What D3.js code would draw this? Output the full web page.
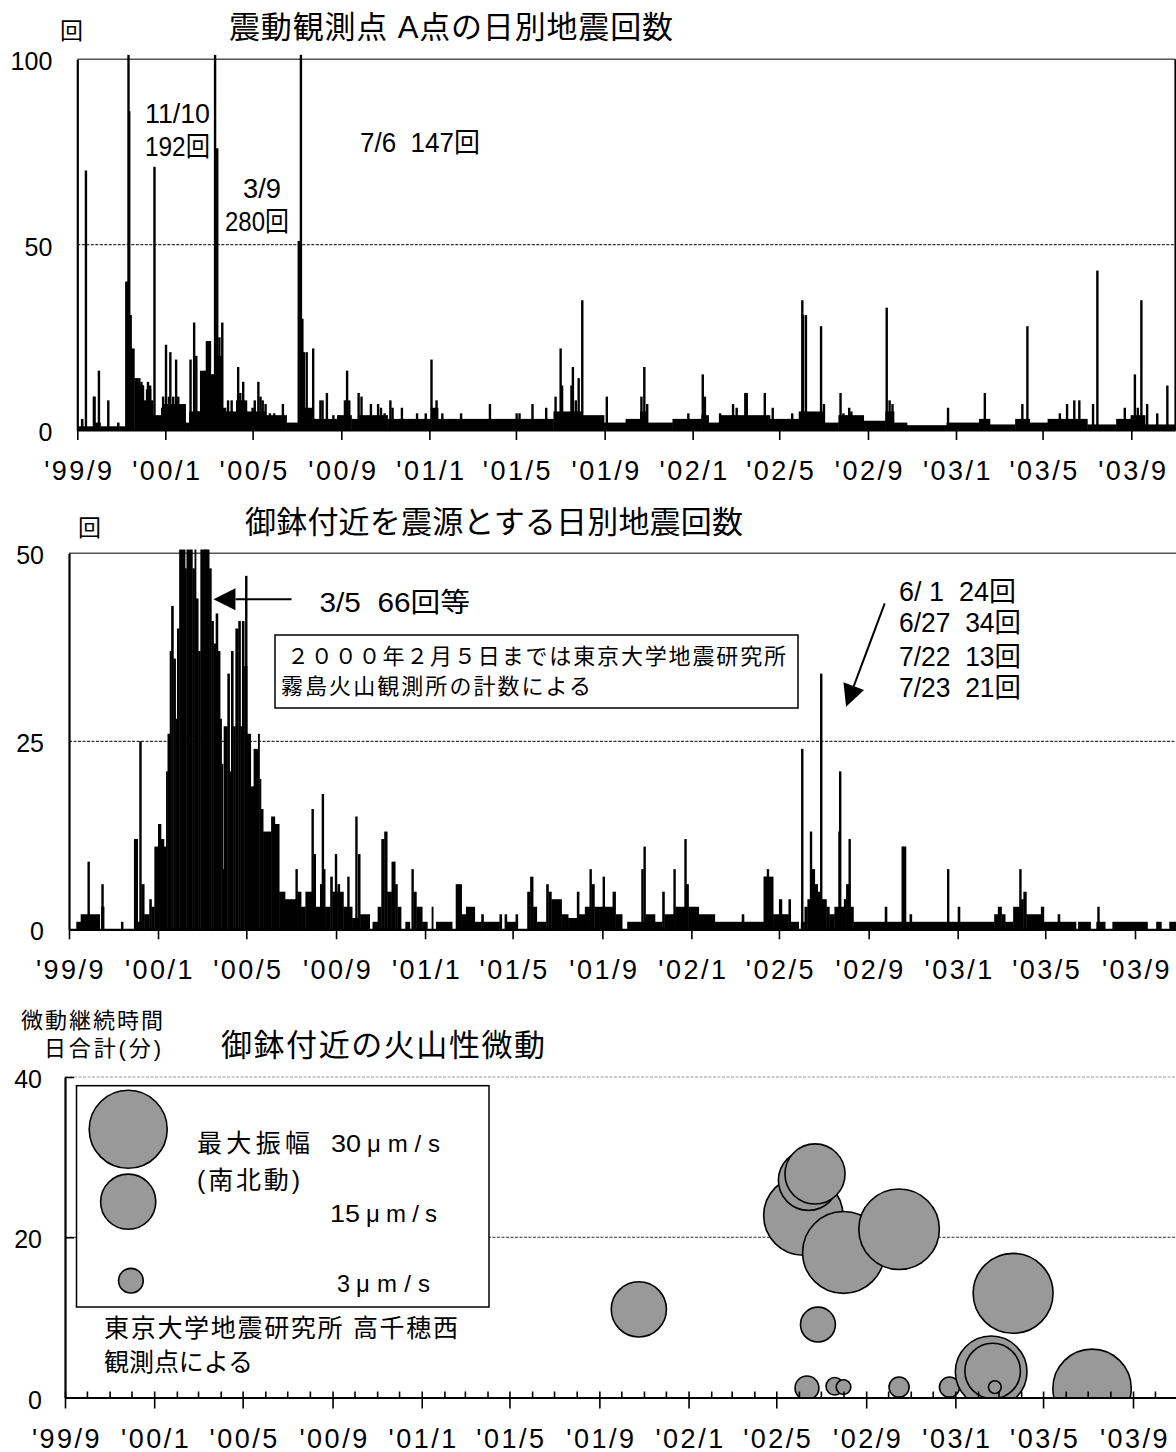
<!DOCTYPE html>
<html>
<head>
<meta charset="utf-8">
<script src="https://cdn.jsdelivr.net/npm/d3@7"></script>
<style>
  body { margin: 0; background: #fff; }
  svg { display: block; background: #fff; }
  text { font-family: 'Liberation Sans', Arial, 'Noto Sans CJK JP', sans-serif; fill: #000; }
</style>
</head>
<body>
<svg width="1176" height="1452"></svg>
<script>
const svg = d3.select('svg')

// days are counted from 1999-09-01
const start = new Date(1999, 8, 1)
const sep03 = new Date(2003, 8, 1)
const end = new Date(2003, 10, 1)
const day = n => d3.timeDay.offset(start, n)

// A point: background level, [day, count] held until the next entry
const baseA = [[0,1],[5,3],[8,1],[24,2],[32,1],[55,2],[58,1],[66,1],[74,22],[79,14],[84,12],[92,8],[95,11],[102,8],[105,4],[116,6],[120,7],[150,2],[155,5],[170,16],[178,24],[185,15],[191,20],[200,6],[206,5],[220,8],[235,5],[260,4],[290,2],[312,6],[325,3],[360,4],[380,3],[390,4],[430,3],[490,6],[500,3],[660,5],[700,4],[730,2],[760,3],[780,5],[790,2],[825,3],[865,4],[875,2],[890,4],[960,3],[1000,5],[1035,2],[1055,4],[1090,2.5],[1120,5],[1132,2],[1150,1.3],[1205,2],[1250,3],[1265,1.5],[1300,3],[1320,2],[1345,3],[1400,1.5],[1440,3],[1460,4],[1480,1.5],[1522,0]]
// A point: single days above the background [day, count]
const peaksA = [[11,70],[22,9],[23,9],[29,16],[42,8],[67,40],[68,40],[69,40],[70,192],[71,86],[72,31],[73,31],[85,14],[88,13],[90,12],[97,13],[100,12],[106,71],[118,9],[122,23],[126,9],[128,21],[132,9],[136,19],[139,9],[142,6],[147,7],[156,19],[161,29],[164,20],[167,5],[187,15],[190,280],[193,76],[196,25],[200,29],[208,8],[213,8],[222,17],[225,10],[229,13],[242,6],[245,8],[250,13],[253,9],[256,8],[260,7],[266,4.5],[272,4.5],[284,7],[306,51],[309,147],[311,30],[313,21],[317,21],[326,22],[336,8],[339,8],[345,10],[354,4],[362,4],[370,8],[373,16],[376,8],[389,10],[393,9],[406,7],[416,7],[420,6],[425,4.5],[433,8],[436,6],[449,6],[470,4.5],[482,4.5],[490,19],[497,8],[505,4.5],[531,4.5],[571,7],[608,4.5],[612,4.5],[630,7],[649,6],[662,9],[669,22],[671,12],[684,12],[686,17],[690,8],[694,14],[699,35],[733,9],[781,9],[785,17],[789,7],[846,4.5],[866,15],[869,9],[890,4.5],[908,7],[913,6],[925,10],[927,10],[952,10],[963,6],[990,4.5],[1004,35],[1005,31],[1009,31],[1030,28],[1034,7],[1057,10],[1061,4.5],[1069,6],[1072,5],[1121,33],[1125,8],[1129,7],[1206,6],[1257,10],[1309,7],[1316,28],[1361,4.5],[1371,7],[1381,8],[1388,8],[1407,7],[1413,43],[1451,6],[1465,15],[1469,6],[1474,35],[1482,7],[1496,4.5],[1510,12]]

// Ohachi: background level [day, count]
const baseB = [[0,0],[10,1],[16,2],[27,2],[42,0],[44,3],[48,0],[89,12],[94,1],[99,6],[103,2],[110,4],[113,3],[117,11],[122,14],[126,12],[130,11],[133,21],[135,26],[138,37],[140,43],[143,36],[146,28],[148,40],[151,55],[159,48],[161,55],[167,60],[169,48],[172,55],[174,44],[177,37],[180,55],[192,48],[195,41],[198,38],[201,42],[204,37],[207,28],[209,22],[211,8],[212,27],[217,34],[220,21],[222,37],[225,27],[228,40],[232,41],[235,27],[237,41],[240,35],[244,26],[249,19],[253,24],[259,26],[261,20],[263,16],[266,13],[277,15],[282,14],[288,5],[296,4],[313,5],[318,3],[324,5],[335,10],[338,3],[344,6],[349,8],[351,3],[358,7],[361,5],[368,6],[371,5],[376,3],[388,1.5],[396,10],[399,2],[412,0],[416,1],[423,3],[428,12],[432,13],[436,5],[442,9],[447,6],[450,3],[455,0],[461,1],[467,0],[472,5],[476,3],[484,1],[491,0],[497,3],[499,0],[503,1],[525,0],[530,6],[538,2],[544,3],[556,1],[565,2],[568,1],[590,2],[593,0],[597,2],[600,1],[612,2],[615,0],[628,5],[632,7],[636,3],[641,1],[654,6],[657,5],[661,4],[675,2],[684,1.5],[696,5],[699,2],[707,3],[716,6],[720,3],[745,5],[749,2],[758,0],[765,1],[790,2],[803,1],[813,5],[816,2],[831,3],[845,6],[849,3],[863,2],[885,1],[922,2],[925,1],[952,7],[965,2],[973,4],[977,2],[986,4],[989,1],[1000,0],[1003,1],[1008,3],[1012,4],[1018,8],[1022,6],[1026,5],[1031,4],[1038,3],[1042,2],[1049,3],[1062,4],[1065,6],[1070,3],[1075,1],[1118,3],[1121,1],[1141,11],[1147,1],[1152,2],[1155,1],[1218,3],[1221,1],[1268,2],[1273,3],[1278,2],[1283,1],[1294,3],[1305,4],[1308,5],[1312,2],[1332,3],[1336,1],[1355,2],[1358,1],[1380,0],[1383,1],[1400,0],[1408,1],[1420,0],[1430,1],[1478,0],[1490,1],[1497,0],[1508,1],[1522,0]]
// Ohachi: single days above the background [day, count]
const peaksB = [[26,9],[45,6],[72,1],[97,25],[186,66],[242,47],[311,8],[333,16],[347,18],[365,10],[382,7],[393,15],[470,8],[714,8],[732,7],[785,8],[788,11],[829,8],[844,12],[953,7],[957,8],[1004,24],[1016,13],[1030,34],[1055,13],[1056,21],[1069,12],[1143,11],[1204,8],[1303,8],[1410,3]]

// volcanic tremor near Ohachi
const tremorDates = ['2001-10-25','2002-06-07','2002-06-12','2002-06-14','2002-06-23','2002-06-27','2002-07-20','2002-08-01','2002-08-01','2002-10-16','2002-10-16','2002-12-24','2003-02-19','2003-02-21','2003-02-24','2003-03-21','2003-07-07']
const tremorMinutes = [11, 22.7, 1.2, 27.1, 27.9, 9.1, 1.4, 18.1, 1.3, 21, 1.3, 1.3, 3.2, 3.3, 1.3, 13, 1.15]
const tremorAmp = [15, 31, 2.8, 17.8, 17.8, 6, 1.5, 33, 1.05, 32, 2, 2, 25.3, 15.2, 0.8, 31.5, 30.3]
const legendAmp = [30, 15, 3]

const parse = d3.timeParse('%Y-%m-%d')
const tickMonths = d3.timeMonth.every(4).range(start, d3.timeDay.offset(sep03, 1))
const allMonths = d3.timeMonth.range(start, end)
const tickLabel = d => `'${d3.timeFormat('%y')(d)}/${d.getMonth() + 1}`

function makeX(left, at0309) {
  const x = d3.scaleTime([start, sep03], [left, at0309])
  return x.copy().domain([start, end]).range([left, x(end)])
}

const x1 = makeX(77.3, 1131.3)
const y1 = d3.scaleLinear([0, 100], [430, 59.3])
const x2 = makeX(69, 1135)
const y2 = d3.scaleLinear([0, 50], [929.3, 553.3])
const x3 = makeX(65, 1133)
const y3 = d3.scaleLinear([0, 40], [1397.5, 1077])
const r = d3.scaleSqrt([0, 30], [0, 39])

function grid(x, y, values, color) {
  svg.append('g').selectAll('line').data(values).join('line')
    .attr('x1', x.range()[0]).attr('x2', x.range()[1])
    .attr('y1', d => y(d)).attr('y2', d => y(d))
    .attr('stroke', color).attr('stroke-width', 1.2)
    .attr('stroke-dasharray', '3,1.5')
}

function drawCounts(x, y, base, peaks, cap) {
  const g = svg.append('g')
  const yv = v => y(Math.min(v, cap))
  g.selectAll('rect.base').data(base.slice(0, -1)).join('rect')
    .attr('class', 'base')
    .attr('x', d => x(day(d[0])))
    .attr('width', (d, i) => x(day(base[i + 1][0])) - x(day(d[0])) + 0.4)
    .attr('y', d => yv(d[1]))
    .attr('height', d => y(0) - yv(d[1]))
  g.selectAll('rect.peak').data(peaks).join('rect')
    .attr('class', 'peak')
    .attr('x', d => x(day(d[0])) - 0.5)
    .attr('width', 2.4)
    .attr('y', d => yv(d[1]))
    .attr('height', d => y(0) - yv(d[1]))
}

function xAxis(x, y0, size) {
  const ax = svg.append('g').attr('transform', `translate(0,${y0})`)
    .call(d3.axisBottom(x).tickValues(tickMonths).tickFormat(tickLabel).tickSize(size).tickSizeOuter(0))
  ax.select('.domain').attr('stroke-width', 2.2)
  ax.selectAll('.tick line').attr('stroke-width', 1.6)
  ax.selectAll('.tick text').attr('y', 50).attr('dy', null).attr('font-size', 27)
    .attr('dx', 1.5).style('letter-spacing', '2.5px')
  return ax
}

function yAxis(x0, y, ticks, pad, inner) {
  const ax = svg.append('g').attr('transform', `translate(${x0},0)`)
    .call(d3.axisLeft(y).tickValues(ticks).tickSizeInner(inner).tickSizeOuter(0).tickPadding(pad))
  ax.select('.domain').attr('stroke-width', 2.2)
  ax.selectAll('.tick line').attr('stroke-width', 1.6)
  ax.selectAll('.tick text').attr('font-size', 25).attr('dy', '0.42em')
}

function label(t, xa, xb, yc, size, adjust) {
  return svg.append('text')
    .attr('x', xa).attr('y', yc)
    .attr('dominant-baseline', 'central')
    .attr('font-size', size)
    .attr('textLength', xb - xa)
    .attr('lengthAdjust', adjust || 'spacingAndGlyphs')
    .text(t)
}

function arrow(x, y, from, to) {
  const xa = x(day(from[0])), ya = y(from[1]), xb = x(day(to[0])), yb = y(to[1])
  const len = Math.hypot(xb - xa, yb - ya)
  const ux = (xb - xa) / len, uy = (yb - ya) / len
  const bx = xb - ux * 22, by = yb - uy * 22
  svg.append('line').attr('x1', xa).attr('y1', ya).attr('x2', bx).attr('y2', by)
    .attr('stroke', '#000').attr('stroke-width', 2)
  svg.append('path')
    .attr('d', `M${xb},${yb}L${bx - uy * 11},${by + ux * 11}L${bx + uy * 11},${by - ux * 11}Z`)
    .attr('fill', '#000')
}

const nb = '\u00a0'

// ---------- panel 1 ----------
grid(x1, y1, [50], '#333')
svg.append('line').attr('x1', x1.range()[0]).attr('x2', x1.range()[1])
  .attr('y1', y1(100)).attr('y2', y1(100)).attr('stroke', '#555').attr('stroke-width', 1.5)
svg.append('line').attr('x1', x1.range()[1]).attr('x2', x1.range()[1])
  .attr('y1', y1(100)).attr('y2', y1(0)).attr('stroke', '#000').attr('stroke-width', 1.8)
drawCounts(x1, y1, baseA, peaksA, 101.2)
xAxis(x1, y1(0), 10)
yAxis(x1.range()[0], y1, [0, 50, 100], 25, 0)

label('回', 60, 83, 31, 23)
label('震動観測点 A点の日別地震回数', 229, 673, 27, 31, 'spacing')
label('11/10', 145, 210, 114, 27)
label('192回', 145, 210, 147, 27)
label('3/9', 243, 281, 189, 27)
label('280回', 225, 289, 222, 27)
label(`7/6${nb}${nb}147回`, 360, 480, 143, 27)

// ---------- panel 2 ----------
grid(x2, y2, [25], '#333')
svg.append('line').attr('x1', x2.range()[0]).attr('x2', x2.range()[1])
  .attr('y1', y2(50)).attr('y2', y2(50)).attr('stroke', '#555').attr('stroke-width', 1.5)
drawCounts(x2, y2, baseB, peaksB, 50.5)
xAxis(x2, y2(0), 10)
yAxis(x2.range()[0], y2, [0, 25, 50], 25, 0)

label('回', 78, 101, 528, 23)
label('御鉢付近を震源とする日別地震回数', 245, 743, 522, 31, 'spacing')
arrow(x2, y2, [305, 43.9], [198, 43.9])
label(`3/5${nb}${nb}66回等`, 319.5, 470, 603, 27)
svg.append('rect').attr('x', 275).attr('y', 635).attr('width', 523).attr('height', 73)
  .attr('fill', '#fff').attr('stroke', '#000').attr('stroke-width', 1.5)
label('２０００年２月５日までは東京大学地震研究所', 287, 786, 656, 22, 'spacing')
label('霧島火山観測所の計数による', 281, 591, 686, 22, 'spacing')
arrow(x2, y2, [1118.8, 43.35], [1065, 29.6])
label(`6/${nb}1${nb}${nb}24回`, 899, 1016, 592, 27)
label(`6/27${nb}${nb}34回`, 899, 1021, 623, 27)
label(`7/22${nb}${nb}13回`, 899, 1021, 657, 27)
label(`7/23${nb}${nb}21回`, 899, 1021, 688, 27)

// ---------- panel 3 ----------
grid(x3, y3, [20], '#333')
grid(x3, y3, [40], '#999')

svg.append('clipPath').attr('id', 'clip3').append('rect')
  .attr('x', x3.range()[0]).attr('y', y3(40) - 20)
  .attr('width', x3.range()[1] - x3.range()[0]).attr('height', y3(0) - y3(40) + 20)

svg.append('g').attr('clip-path', 'url(#clip3)')
  .selectAll('circle').data(d3.range(tremorDates.length)).join('circle')
  .attr('cx', i => x3(parse(tremorDates[i])))
  .attr('cy', i => y3(tremorMinutes[i]))
  .attr('r', i => r(tremorAmp[i]))
  .attr('fill', '#999').attr('stroke', '#000').attr('stroke-width', 1.6)

// legend box
svg.append('rect').attr('x', 76.5).attr('y', 1085.7).attr('width', 412.5).attr('height', 221.3)
  .attr('fill', '#fff').attr('stroke', '#000').attr('stroke-width', 1.5)
const legendPos = [[128.2, 1129.3], [128.2, 1201.7], [130.9, 1280.7]]
svg.append('g').selectAll('circle').data(legendAmp).join('circle')
  .attr('cx', (d, i) => legendPos[i][0]).attr('cy', (d, i) => legendPos[i][1])
  .attr('r', d => r(d))
  .attr('fill', '#999').attr('stroke', '#000').attr('stroke-width', 1.6)
label('最大振幅', 197, 310, 1143, 25, 'spacing')
label('(南北動)', 197, 300, 1180, 25, 'spacing')
// amplitude number and unit, placed as in the legend of the original
const legendText = [[331, 361, 367, 440, 1143], [330, 360, 366, 437, 1213], [337, 350, 356, 430, 1283]]
legendAmp.forEach((a, i) => {
  const [na, nbx, ua, ub, yc] = legendText[i]
  label(String(a), na, nbx, yc, 24)
  label('μm/s', ua, ub, yc, 24, 'spacing')
})
label('東京大学地震研究所 高千穂西', 104, 458, 1328, 25, 'spacing')
label('観測点による', 104, 253, 1362, 25, 'spacing')

// minor monthly ticks pointing up, major ticks pointing down
const minor = svg.append('g').attr('transform', `translate(0,${y3(0)})`)
  .call(d3.axisBottom(x3).tickValues(allMonths).tickFormat('').tickSize(-6).tickSizeOuter(0))
minor.selectAll('.tick line').attr('stroke-width', 1.6)
minor.select('.domain').remove()
xAxis(x3, y3(0), 11)
yAxis(x3.range()[0], y3, [0, 20, 40], 23, -9)

label('微動継続時間', 21, 163, 1020, 22, 'spacing')
label('日合計(分)', 44, 161, 1048, 22, 'spacing')
label('御鉢付近の火山性微動', 221, 545, 1045, 31, 'spacing')
</script>
</body>
</html>
